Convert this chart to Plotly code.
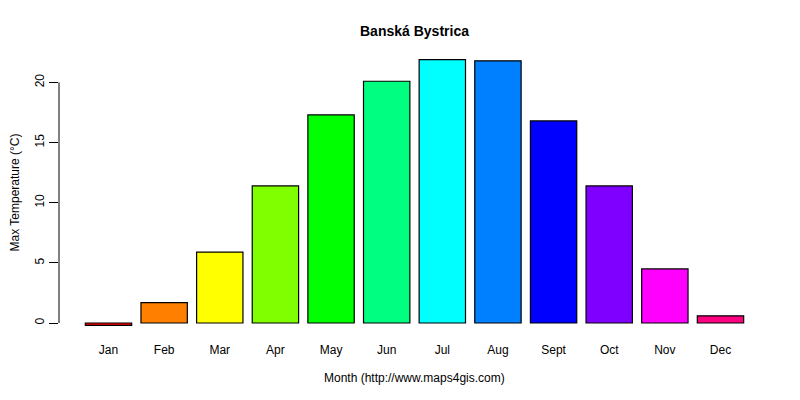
import plotly.graph_objects as go

months = ["Jan", "Feb", "Mar", "Apr", "May", "Jun", "Jul", "Aug", "Sept", "Oct", "Nov", "Dec"]
max_temp = [-0.2, 1.7, 5.9, 11.4, 17.3, 20.1, 21.9, 21.8, 16.8, 11.4, 4.5, 0.6]
bar_colors = ["#FF0000", "#FF8000", "#FFFF00", "#80FF00", "#00FF00", "#00FF80",
              "#00FFFF", "#0080FF", "#0000FF", "#8000FF", "#FF00FF", "#FF0080"]
y_ticks = [0, 5, 10, 15, 20]

font_family = "Liberation Sans, Arial, sans-serif"

fig = go.Figure()
fig.add_trace(go.Bar(x=months, y=max_temp,
                     marker=dict(color=bar_colors, line=dict(color="black", width=1.2)),
                     showlegend=False))

# margins allow for the page's 8px body offset
fig.update_layout(
    width=800, height=400,
    margin=dict(l=51, r=38, t=41, b=72),
    paper_bgcolor="white", plot_bgcolor="white",
    font=dict(family=font_family, size=12, color="black"),
    bargap=0.1667,
    annotations=[
        dict(text="<b>Banská Bystrica</b>", xref="paper", yref="paper", x=0.5, y=1.064,
             showarrow=False, font=dict(size=14), xanchor="center", yanchor="middle"),
        dict(text="Month (http://www.maps4gis.com)", xref="paper", yref="paper", x=0.5, y=-0.145,
             showarrow=False, font=dict(size=12), xanchor="center", yanchor="middle"),
        dict(text="Max Temperature (°C)", xref="paper", yref="paper", x=-0.0619, y=0.5,
             showarrow=False, textangle=-90, font=dict(size=12), xanchor="center", yanchor="middle"),
    ],
)
fig.update_xaxes(range=[-0.89, 11.89], showline=False, ticks="", showgrid=False,
                 zeroline=False, ticklabelstandoff=5)
fig.update_yaxes(range=[-1.08, 22.78], tickvals=y_ticks, ticks="outside", ticklen=9,
                 tickwidth=1, tickcolor="black", showgrid=False, zeroline=False,
                 showline=False, tickangle=-90, ticklabelstandoff=0)
# axis line spans only the tick range, like R's axis()
fig.add_shape(type="line", xref="paper", yref="y", x0=0, x1=0, y0=y_ticks[0], y1=y_ticks[-1],
              line=dict(color="black", width=1))

fig.write_html("out.html")
